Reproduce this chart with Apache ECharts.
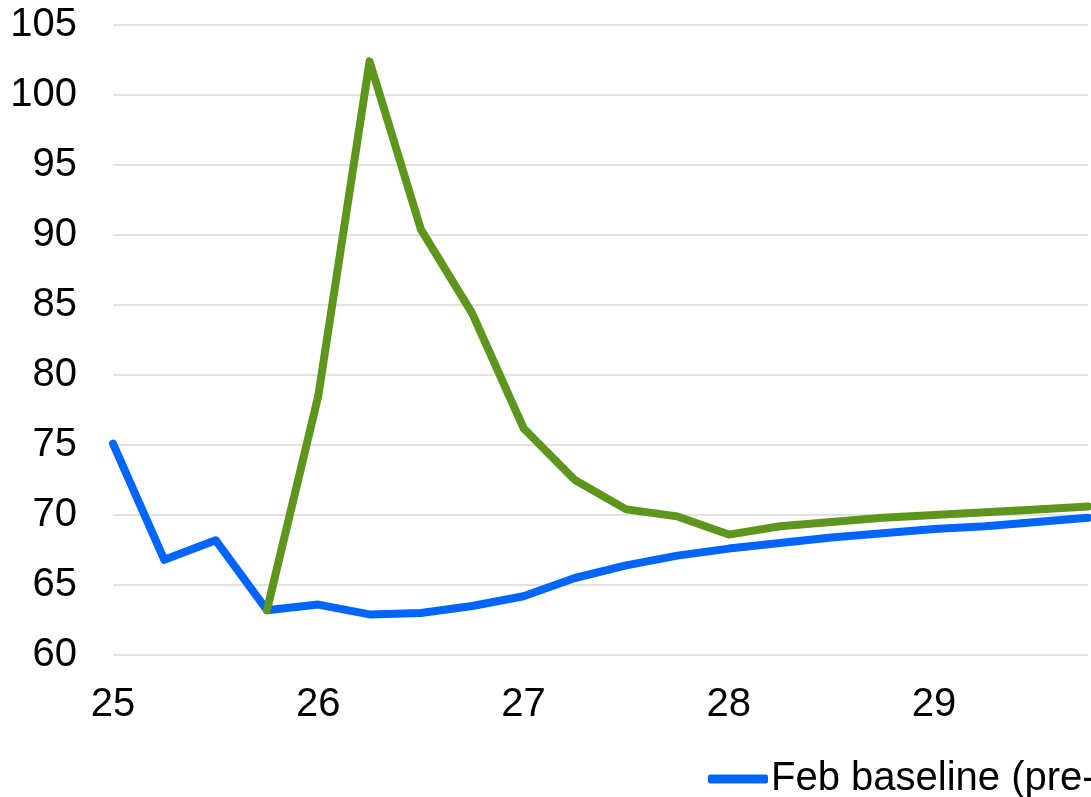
<!DOCTYPE html>
<html>
<head>
<meta charset="utf-8">
<script src="https://cdn.jsdelivr.net/npm/echarts@6/dist/echarts.min.js"></script>
<style>
html,body{margin:0;padding:0;background:#fff;}
#chart{width:1091px;height:797px;}
</style>
</head>
<body>
<div id="chart"></div>
<script>
var categories = ['25','25Q2','25Q3','25Q4','26','26Q2','26Q3','26Q4','27','27Q2','27Q3','27Q4','28','28Q2','28Q3','28Q4','29','29Q2','29Q3','29Q4'];
var baselineValues = [75.1, 66.8, 68.2, 63.2, 63.6, 62.9, 63.0, 63.5, 64.2, 65.5, 66.4, 67.1, 67.6, 68.0, 68.4, 68.7, 69.0, 69.2, 69.5, 69.8];
var scenarioValues = ['-', '-', '-', 63.2, 78.5, 102.4, 90.4, 84.4, 76.2, 72.5, 70.4, 69.9, 68.6, 69.2, 69.5, 69.8, 70.0, 70.2, 70.4, 70.6];
var seriesNames = ['Feb baseline (pre-war)', 'Scenario'];
var yTicks = [60, 105, 5];

var chart = echarts.init(document.getElementById('chart'));
var font = 'Liberation Sans, Arial, sans-serif';
chart.setOption({
  animation: false,
  grid: { left: 113, top: 25, bottom: 142, right: -5, containLabel: false },
  legend: {
    data: [seriesNames[0], seriesNames[1]],
    left: 708, top: 759, padding: 0,
    icon: 'roundRect', itemWidth: 60, itemHeight: 9, itemGap: 30,
    textStyle: { fontFamily: font, fontSize: 40, color: '#000', padding: [0,0,0,-2] }
  },
  xAxis: {
    type: 'category', data: categories, boundaryGap: false,
    axisLine: { show: false }, axisTick: { show: false },
    axisLabel: {
      interval: 0, margin: 30, fontFamily: font, fontSize: 40, color: '#000',
      formatter: function (v) { return v.indexOf('Q') >= 0 ? '' : v; }
    },
    splitLine: { show: false }
  },
  yAxis: {
    type: 'value', min: yTicks[0], max: yTicks[1], interval: yTicks[2],
    axisLine: { show: false }, axisTick: { show: false },
    axisLabel: { margin: 36, fontFamily: font, fontSize: 40, color: '#000' },
    splitLine: { lineStyle: { color: '#D9D9D9', width: 1.5 } }
  },
  series: [
    { name: seriesNames[0], type: 'line', data: baselineValues, symbol: 'none', z: 2,
      lineStyle: { color: '#0064FF', width: 8, cap: 'round', join: 'round' }, itemStyle: { color: '#0064FF' } },
    { name: seriesNames[1], type: 'line', data: scenarioValues, symbol: 'none', z: 3,
      lineStyle: { color: '#5E951C', width: 8, cap: 'round', join: 'round' }, itemStyle: { color: '#5E951C' } }
  ]
});
</script>
</body>
</html>
